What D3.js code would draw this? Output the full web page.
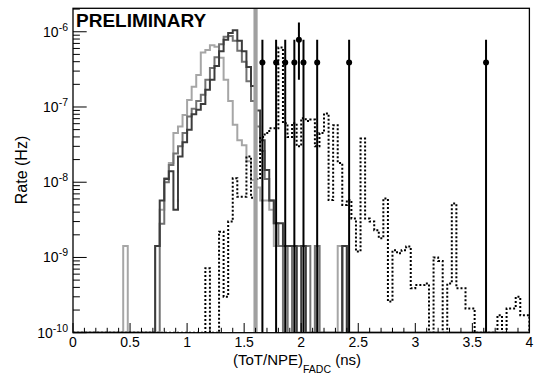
<!DOCTYPE html>
<html><head><meta charset="utf-8">
<script src="https://cdn.jsdelivr.net/npm/d3@7"></script>
<style>
html,body{margin:0;padding:0;background:#fff;}
svg{display:block;font-family:"Liberation Sans",Arial,Helvetica,sans-serif;}
</style></head><body>
<svg id="chart" width="534" height="374"></svg>
<script>
// 100 bins of 0.04 ns on [0, 4] ns
const binWidth = 0.04;
const xTicks = [0, 0.5, 1, 1.5, 2, 2.5, 3, 3.5, 4];
const xTickLabels = ["0", "0.5", "1", "1.5", "2", "2.5", "3", "3.5", "4"];
const yDecades = [-10, -9, -8, -7, -6];
const cutValue = 1.6;

// simulated rate per bin (Hz), light gray sample
const lightGrayRate = [
  0,0,0,0,0,0,0,0,0,0,
  0,1.42e-9,0,0,0,0,0,0,1.42e-9,4.3e-9,
  1.14e-8,1.8e-8,4.5e-8,5.5e-8,7.8e-8,1.24e-7,1.86e-7,2.66e-7,5.3e-7,5.7e-7,
  6.6e-7,6.3e-7,4.5e-7,2.3e-7,1.2e-7,5.8e-8,3.6e-8,3.1e-8,1.9e-8,1.07e-8,
  8.5e-9,5.7e-9,5.7e-9,4.3e-9,1.42e-9,1.42e-9,1.42e-9,0,1.42e-9,1.42e-9,
  1.42e-9,0,0,1.42e-9,0,0,0,0,1.42e-9,0,
  0,0,0,0,0,0,0,0,0,0,
  0,0,0,0,0,0,0,0,0,0,
  0,0,0,0,0,0,0,0,0,0,
  0,0,0,0,0,0,0,0,0,0
];
// medium gray sample
const midGrayRate = [
  0,0,0,0,0,0,0,0,0,0,
  0,0,0,0,0,0,0,0,0,2.8e-9,
  1.0e-8,1.7e-8,2.4e-8,3.0e-8,4.5e-8,7.5e-8,9.5e-8,1.2e-7,1.45e-7,2.3e-7,
  3.3e-7,4.6e-7,6.8e-7,8.6e-7,8.8e-7,7.6e-7,5.6e-7,4.0e-7,2.2e-7,1.2e-7,
  5.5e-8,2.6e-8,1.1e-8,5.7e-9,2.84e-9,1.42e-9,0,1.42e-9,0,1.42e-9,
  1.42e-9,1.42e-9,0,1.42e-9,0,0,0,0,0,1.42e-9,
  0,0,0,0,0,0,0,0,0,0,
  0,0,0,0,0,0,0,0,0,0,
  0,0,0,0,0,0,0,0,0,0,
  0,0,0,0,0,0,0,0,0,0
];
// dark gray sample
const darkGrayRate = [
  0,0,0,0,0,0,0,0,0,0,
  0,0,0,0,0,0,0,0,1.42e-9,5.7e-9,
  1.1e-8,1.4e-8,4.3e-9,2.2e-8,3.4e-8,5.0e-8,8.0e-8,9.2e-8,1.1e-7,1.7e-7,
  2.3e-7,3.5e-7,5.5e-7,7.8e-7,9.6e-7,1.05e-6,7.6e-7,5.5e-7,3.4e-7,1.9e-7,
  9.0e-8,3.6e-8,1.45e-8,5.7e-9,2.84e-9,2.84e-9,1.42e-9,1.42e-9,1.42e-9,0,
  1.42e-9,0,0,0,0,0,0,0,0,1.42e-9,
  0,0,0,0,0,0,0,0,0,0,
  0,0,0,0,0,0,0,0,0,0,
  0,0,0,0,0,0,0,0,0,0,
  0,0,0,0,0,0,0,0,0,0
];
// background sample, drawn dotted
const dottedRate = [
  0,0,0,0,0,0,0,0,0,0,
  0,0,0,0,0,0,0,0,0,0,
  0,0,0,0,0,0,0,0,0,7.2e-10,
  0,0,2.2e-9,3.0e-10,3.0e-9,1.13e-8,6.4e-9,6.4e-9,2.2e-8,6.2e-9,
  1.1e-8,4.0e-8,4.5e-8,5.2e-8,5.2e-8,6.2e-7,6.1e-8,4.0e-8,6.1e-8,3.0e-8,
  7.1e-8,6.5e-8,6.8e-8,3.0e-8,4.5e-8,8.2e-8,5.8e-9,5.7e-8,1.8e-8,5.0e-9,
  5.8e-9,3.3e-9,1.2e-9,3.8e-8,3.3e-9,3.0e-9,2.3e-9,1.8e-9,6.1e-9,2.6e-10,
  1.25e-9,1.14e-9,1.25e-9,1.4e-9,3.9e-10,4.3e-10,4.3e-10,4.5e-10,0,1.0e-9,
  9e-10,0,4.5e-10,5.2e-9,3.9e-10,3.9e-10,2.1e-10,2.1e-10,0,0,
  0,0,0,1.7e-10,0,2.1e-10,2.1e-10,3.0e-10,1.7e-10,1.7e-10
];
// measured events: bin centre, rate and its error
const dataX = [1.66, 1.78, 1.86, 1.94, 1.98, 2.02, 2.14, 2.42, 3.62];
const dataRate = [3.9e-7, 3.9e-7, 3.9e-7, 3.9e-7, 7.8e-7, 3.9e-7, 3.9e-7, 3.9e-7, 3.9e-7];
const dataErr = [3.9e-7, 3.9e-7, 3.9e-7, 3.9e-7, 5.5e-7, 3.9e-7, 3.9e-7, 3.9e-7, 3.9e-7];

const yMin = 1e-10, yMax = 2.05e-6;
const frameLeft = 73, frameRight = 529.4, frameTop = 8.3, frameBottom = 332.7;

const svg = d3.select("#chart");
const x = d3.scaleLinear().domain([0, 4]).range([frameLeft, frameRight]);
const y = d3.scaleLog().domain([yMin, yMax]).range([frameBottom, frameTop]);
const yc = v => y(Math.max(v, yMin));

svg.append("defs").append("clipPath").attr("id", "plotArea")
  .append("rect").attr("x", frameLeft).attr("y", frameTop)
  .attr("width", frameRight - frameLeft).attr("height", frameBottom - frameTop);

const plot = svg.append("g").attr("clip-path", "url(#plotArea)");

function stepPoints(values) {
  const pts = [[x(0), frameBottom]];
  values.forEach((v, k) => pts.push([x(k * binWidth), yc(v)]));
  pts.push([x(values.length * binWidth), yc(values[values.length - 1])]);
  pts.push([x(values.length * binWidth), frameBottom]);
  return pts;
}
const stepLine = d3.line().curve(d3.curveStepAfter);

const series = [
  {values: lightGrayRate, color: "#a6a6a6", dash: null},
  {values: midGrayRate, color: "#727272", dash: null},
  {values: darkGrayRate, color: "#3c3c3c", dash: null},
  {values: dottedRate, color: "#000", dash: "2,2"}
];
series.forEach(s => {
  plot.append("path")
    .attr("d", stepLine(stepPoints(s.values)))
    .attr("fill", "none")
    .attr("stroke", s.color)
    .attr("stroke-width", 2)
    .attr("stroke-dasharray", s.dash);
});

// cut value
plot.append("line")
  .attr("x1", x(cutValue)).attr("x2", x(cutValue))
  .attr("y1", frameTop).attr("y2", frameBottom)
  .attr("stroke", "#a0a0a0").attr("stroke-width", 4.2);

// measured points with error bars
const pts = plot.append("g");
dataX.forEach((dx, i) => {
  pts.append("line")
    .attr("x1", x(dx)).attr("x2", x(dx))
    .attr("y1", yc(dataRate[i] + dataErr[i]))
    .attr("y2", yc(dataRate[i] - dataErr[i]))
    .attr("stroke", "#000").attr("stroke-width", 2);
  pts.append("circle")
    .attr("cx", x(dx)).attr("cy", y(dataRate[i]))
    .attr("r", 3).attr("fill", "#000");
});

// axes: ticks inside the frame
const axes = svg.append("g").attr("stroke", "#000").attr("stroke-width", 1);
const xMinor = d3.range(0, 41).map(i => i / 10);
xMinor.forEach(v => {
  const major = xTicks.some(t => Math.abs(t - v) < 1e-9);
  axes.append("line")
    .attr("x1", x(v)).attr("x2", x(v))
    .attr("y1", frameBottom).attr("y2", frameBottom - (major ? 9.7 : 4.9));
});
yDecades.forEach(d => {
  const base = Math.pow(10, d);
  axes.append("line")
    .attr("x1", frameLeft).attr("x2", frameLeft + 13.7)
    .attr("y1", y(base)).attr("y2", y(base));
  for (let m = 2; m <= 9; m++) {
    const v = m * base;
    if (v > yMax) break;
    axes.append("line")
      .attr("x1", frameLeft).attr("x2", frameLeft + 6.9)
      .attr("y1", y(v)).attr("y2", y(v));
  }
});

svg.append("rect")
  .attr("x", frameLeft).attr("y", frameTop)
  .attr("width", frameRight - frameLeft).attr("height", frameBottom - frameTop)
  .attr("fill", "none").attr("stroke", "#000").attr("stroke-width", 1.3);

// tick labels
const labels = svg.append("g").attr("fill", "#000");
xTicks.forEach((t, i) => {
  labels.append("text")
    .attr("x", x(t)).attr("y", frameBottom + 14)
    .attr("text-anchor", "middle").attr("font-size", 14)
    .text(xTickLabels[i]);
});
yDecades.forEach(d => {
  const t = labels.append("text")
    .attr("x", frameLeft - 5).attr("y", y(Math.pow(10, d)) + 5)
    .attr("text-anchor", "end").attr("font-size", 14);
  t.append("tspan").text("10");
  t.append("tspan").attr("font-size", 10.5).attr("dy", -6).text(String(d));
});

// axis titles
const xt = labels.append("text").attr("x", 233).attr("y", 365).attr("font-size", 15);
xt.append("tspan").text("(ToT/NPE)");
xt.append("tspan").attr("font-size", 10.5).attr("dy", 8).text("FADC");
xt.append("tspan").attr("dy", -8).text(" (ns)");

labels.append("text")
  .attr("transform", "translate(27,170) rotate(-90)")
  .attr("text-anchor", "middle").attr("font-size", 16)
  .text("Rate (Hz)");

labels.append("text")
  .attr("x", 76).attr("y", 26.7)
  .attr("font-size", 19).attr("font-weight", "bold")
  .text("PRELIMINARY");
</script>
</body></html>
